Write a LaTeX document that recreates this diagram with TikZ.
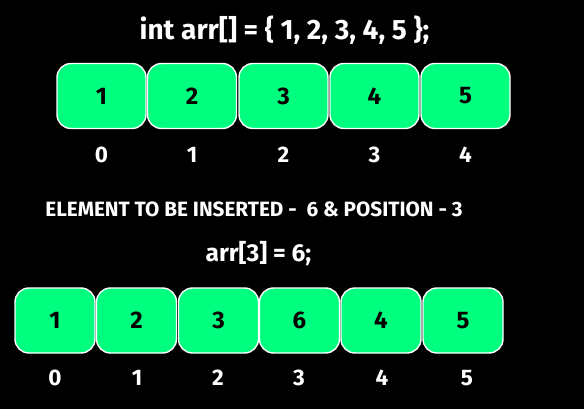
\documentclass[tikz,border=0pt]{standalone}
\usepackage{fontspec}
\setmainfont{Fira Sans}[UprightFont=* Bold, BoldFont=* Bold]
\definecolor{cellgreen}{HTML}{00FF7F}
\tikzset{
  cell/.style={draw=white, line width=1.4pt, fill=cellgreen, rounded corners=14pt,
    minimum height=65pt, text=black, font=\fontsize{24}{24}\selectfont, inner sep=0pt},
  topcell/.style={cell, minimum width=89pt},
  botcell/.style={cell, minimum width=80pt},
  idx/.style={text=white, font=\fontsize{22.5}{22.5}\selectfont, inner sep=0pt},
  caption/.style={text=white, inner sep=0pt}
}
\begin{document}
\begin{tikzpicture}[x=1pt, y=-1pt]
\fill[black] (0,0) rectangle (584,409);
\useasboundingbox (0,0) rectangle (584,409);
\node[caption, font=\fontsize{28}{28}\selectfont] (title) at (284.5,30) {int arr[] = \{ 1, 2, 3, 4, 5 \};};
\foreach \v/\x [count=\i from 0] in {1/101.5, 2/192, 3/283.5, 4/374.5, 5/465.5} {
  \node[topcell] (t\i) at (\x,96) {\v};
  \node[idx] (ti\i) at (\x,154.5) {\i};
}
\node[caption, font=\fontsize{20.7}{20.7}\selectfont] (elem) at (254,209) {ELEMENT TO BE INSERTED -\ \ 6 \& POSITION - 3};
\node[caption, font=\fontsize{24.5}{24.5}\selectfont] (assign) at (258.5,254) {arr[3] = 6;};
\foreach \v/\x [count=\i from 0] in {1/55, 2/136.5, 3/218.5, 6/299.5, 4/381, 5/463} {
  \node[botcell] (b\i) at (\x,320.5) {\v};
}
\foreach \x [count=\i from 0] in {55, 137, 218, 299, 382, 467} {
  \node[idx] (bi\i) at (\x,378) {\i};
}
\end{tikzpicture}
\end{document}
